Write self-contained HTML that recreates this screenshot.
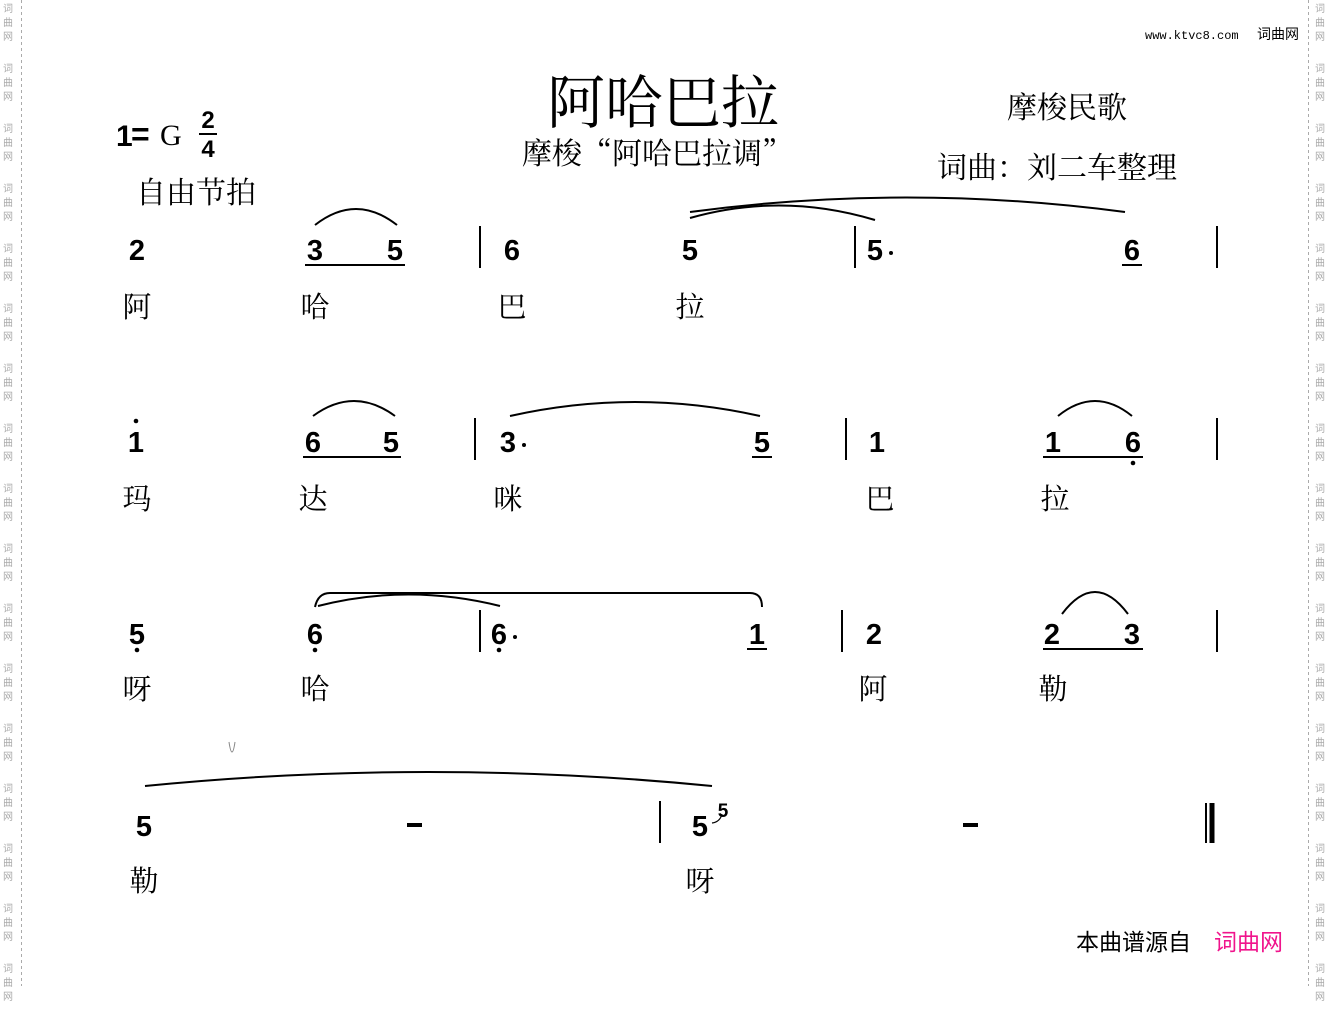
<!DOCTYPE html>
<html><head><meta charset="utf-8"><style>
html,body{margin:0;padding:0;background:#fff;}
body{width:1330px;height:986px;position:relative;overflow:hidden;}
.wm{position:absolute;top:0;width:12px;font:10px "WenQuanYi Zen Hei","Noto Sans CJK SC",sans-serif;color:#aaa;}
.wm p{margin:0;height:60px;line-height:14px;padding-top:1px;box-sizing:border-box;}
svg{position:absolute;left:0;top:0;}
</style></head><body>
<div class="wm" style="left:3px"><p>词<br>曲<br>网</p><p>词<br>曲<br>网</p><p>词<br>曲<br>网</p><p>词<br>曲<br>网</p><p>词<br>曲<br>网</p><p>词<br>曲<br>网</p><p>词<br>曲<br>网</p><p>词<br>曲<br>网</p><p>词<br>曲<br>网</p><p>词<br>曲<br>网</p><p>词<br>曲<br>网</p><p>词<br>曲<br>网</p><p>词<br>曲<br>网</p><p>词<br>曲<br>网</p><p>词<br>曲<br>网</p><p>词<br>曲<br>网</p><p>词<br>曲<br>网</p></div>
<div class="wm" style="left:1315px"><p>词<br>曲<br>网</p><p>词<br>曲<br>网</p><p>词<br>曲<br>网</p><p>词<br>曲<br>网</p><p>词<br>曲<br>网</p><p>词<br>曲<br>网</p><p>词<br>曲<br>网</p><p>词<br>曲<br>网</p><p>词<br>曲<br>网</p><p>词<br>曲<br>网</p><p>词<br>曲<br>网</p><p>词<br>曲<br>网</p><p>词<br>曲<br>网</p><p>词<br>曲<br>网</p><p>词<br>曲<br>网</p><p>词<br>曲<br>网</p><p>词<br>曲<br>网</p></div>
<svg width="1330" height="986" viewBox="0 0 1330 986">
<g stroke="#aaa" stroke-width="1" stroke-dasharray="3,3"><line x1="21.5" y1="0" x2="21.5" y2="986"/><line x1="1308.5" y1="0" x2="1308.5" y2="986"/></g>
<g font-family="'Liberation Serif','Noto Serif CJK SC',serif" fill="#000">
<text x="663" y="123" font-size="58" text-anchor="middle">阿哈巴拉</text>
<text x="657" y="164" font-size="30" text-anchor="middle" font-family="'Noto Serif CJK SC',serif">摩梭“阿哈巴拉调”</text>
<text x="1067" y="118" font-size="30" text-anchor="middle">摩梭民歌</text>
<text x="1057" y="178" font-size="30" text-anchor="middle" font-family="'Noto Serif CJK SC',serif">词曲：刘二车整理</text>
<text x="196" y="203" font-size="30" text-anchor="middle">自由节拍</text>
<text x="160" y="145" font-size="30">G</text>
</g>
<text x="116" y="146" font-family="'Liberation Sans',sans-serif" font-weight="bold" font-size="30">1</text>
<text x="131" y="145" font-family="'Liberation Sans',sans-serif" font-weight="bold" font-size="32">=</text>
<g font-family="'Liberation Sans',sans-serif" font-weight="bold" font-size="24" text-anchor="middle"><text x="208" y="128">2</text><text x="208" y="157">4</text></g>
<line x1="199" y1="134" x2="217" y2="134" stroke="#000" stroke-width="2"/>
<text x="1145" y="39" font-family="'Liberation Mono',monospace" font-size="12">www.ktvc8.com</text>
<text x="1257" y="39" font-family="'WenQuanYi Zen Hei',sans-serif" font-size="14">词曲网</text>
<text x="1076" y="950" font-family="'WenQuanYi Zen Hei','Noto Sans CJK SC',sans-serif" font-size="23">本曲谱源自</text>
<text x="1214" y="950" font-family="'WenQuanYi Zen Hei','Noto Sans CJK SC',sans-serif" font-size="23" fill="#f0148c">词曲网</text>

<g font-family="'Liberation Sans',sans-serif" font-weight="bold" font-size="29" text-anchor="middle" fill="#000">
<text x="137" y="260">2</text><text x="315" y="260">3</text><text x="395" y="260">5</text><text x="512" y="260">6</text><text x="690" y="260">5</text><text x="875" y="260">5</text><text x="1132" y="260">6</text>
<text x="136" y="452">1</text><text x="313" y="452">6</text><text x="391" y="452">5</text><text x="508" y="452">3</text><text x="762" y="452">5</text><text x="877" y="452">1</text><text x="1053" y="452">1</text><text x="1133" y="452">6</text>
<text x="137" y="644">5</text><text x="315" y="644">6</text><text x="499" y="644">6</text><text x="757" y="644">1</text><text x="874" y="644">2</text><text x="1052" y="644">2</text><text x="1132" y="644">3</text>
<text x="144" y="836">5</text><text x="700" y="836">5</text>
<text x="723" y="817" font-size="19">5</text>
</g>
<rect x="407" y="823" width="15" height="4" fill="#000"/><rect x="963" y="823" width="15" height="4" fill="#000"/>
<g fill="#000"><circle cx="891" cy="253" r="2"/><circle cx="136" cy="421" r="2.3"/><circle cx="524" cy="445" r="2"/><circle cx="1133" cy="463" r="2.3"/><circle cx="137" cy="650" r="2.3"/><circle cx="315" cy="650" r="2.3"/><circle cx="499" cy="650" r="2.3"/><circle cx="515" cy="637" r="2"/></g>
<g stroke="#000" stroke-width="2">
<line x1="305" y1="265" x2="405" y2="265"/><line x1="1122" y1="265" x2="1142" y2="265"/>
<line x1="303" y1="457" x2="401" y2="457"/><line x1="752" y1="457" x2="772" y2="457"/><line x1="1043" y1="457" x2="1143" y2="457"/>
<line x1="747" y1="649" x2="767" y2="649"/><line x1="1043" y1="649" x2="1143" y2="649"/>
<line x1="480" y1="226" x2="480" y2="268"/><line x1="855" y1="226" x2="855" y2="268"/><line x1="1217" y1="226" x2="1217" y2="268"/>
<line x1="475" y1="418" x2="475" y2="460"/><line x1="846" y1="418" x2="846" y2="460"/><line x1="1217" y1="418" x2="1217" y2="460"/>
<line x1="480" y1="610" x2="480" y2="652"/><line x1="842" y1="610" x2="842" y2="652"/><line x1="1217" y1="610" x2="1217" y2="652"/>
<line x1="660" y1="801" x2="660" y2="843"/><line x1="1206" y1="803" x2="1206" y2="843"/>
</g>
<line x1="1212" y1="803" x2="1212" y2="843" stroke="#000" stroke-width="5"/>
<g fill="none" stroke="#000" stroke-width="2">
<path d="M315 225 Q356 193 397 225"/>
<path d="M690 218 Q782 192 875 220"/>
<path d="M690 212 Q905 183 1125 212"/>
<path d="M313 416 Q354 386 395 416"/>
<path d="M510 416 Q635 388 760 416"/>
<path d="M1058 416 Q1095 386 1132 416"/>
<path d="M315 607 Q318 593 330 593 L750 593 Q762 593 762 607"/>
<path d="M318 606 Q408 583 500 606"/>
<path d="M1062 614 Q1095 570 1128 614"/>
<path d="M145 786 Q428 758 712 786"/>
<path d="M722 814 Q720 822 712 823" stroke-width="1.2"/>
<path d="M229 742 Q232 762 235 742" stroke-width="1" stroke="#888"/>
</g>
<g font-family="'Liberation Serif','Noto Serif CJK SC',serif" font-size="29" text-anchor="middle" fill="#000">
<text x="137" y="317">阿</text><text x="315" y="317">哈</text><text x="512" y="317">巴</text><text x="690" y="317">拉</text>
<text x="137" y="509">玛</text><text x="313" y="509">达</text><text x="508" y="509">咪</text><text x="880" y="509">巴</text><text x="1055" y="509">拉</text>
<text x="137" y="699">呀</text><text x="315" y="699">哈</text><text x="873" y="699">阿</text><text x="1053" y="699">勒</text>
<text x="144" y="891">勒</text><text x="700" y="891">呀</text>
</g>
</svg>
</body></html>
